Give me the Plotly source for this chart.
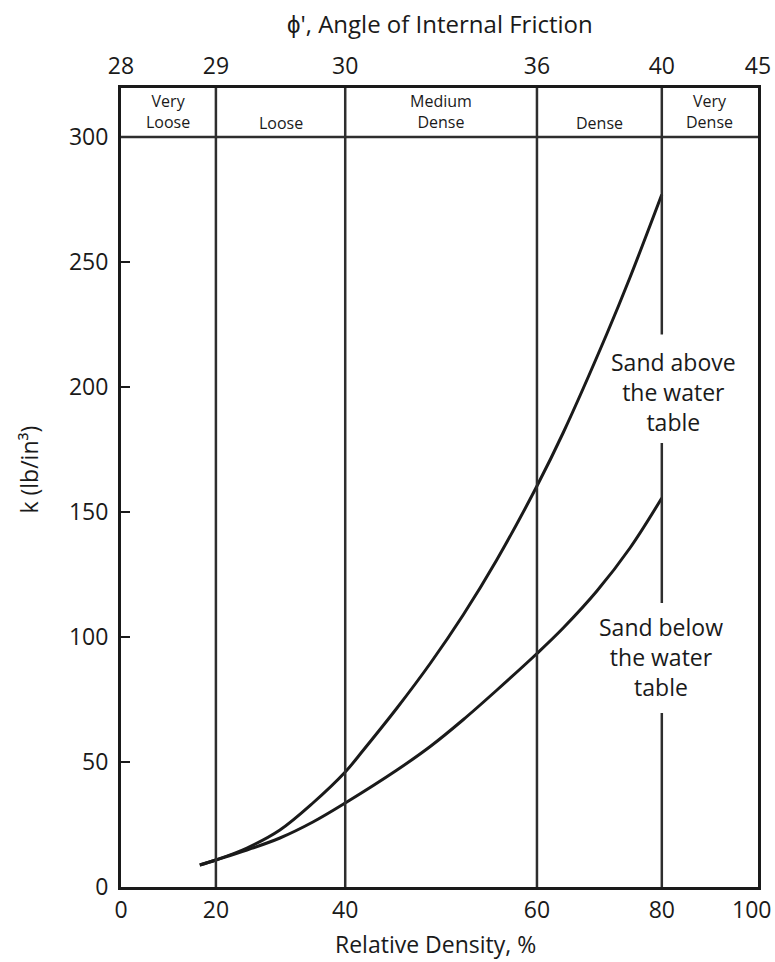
import numpy as np
import plotly.graph_objects as go

# ---- data -------------------------------------------------------------
# Relative density tick values (bottom axis) and their place on the chart's
# own (non-uniform, hand-drawn) scale, expressed in % of the axis length.
DENSITY_TICKS = [0, 20, 40, 60, 80, 100]
SCALE_POS = [0, 14.9, 35.2, 65.3, 84.9, 100]
DENSITY_LABELS = ["0", "20", "40", "60", "80", "100"]

# Angle of internal friction labels (top axis), aligned with the density ticks
PHI_LABELS = ["28", "29", "30", "36", "40", "45"]

# Density classes (boundaries in relative density, %)
CLASS_NAMES = ["Very<br>Loose", "Loose", "Medium<br>Dense", "Dense", "Very<br>Dense"]
CLASS_BOUNDS = [0, 20, 40, 60, 80, 100]

# Curves: relative density (%) vs modulus of subgrade reaction k (lb/in^3)
ABOVE_DENSITY = [16.6, 20, 24.8, 29.9, 35, 40, 41.9, 45.4, 48.9, 52.3, 55.8, 60, 64.2, 71.2, 74.9, 80]
ABOVE_K = [8.8, 10.8, 15.6, 22.8, 33.6, 46, 54.8, 71.6, 89.6, 108.8, 130.8, 160.4, 181.7, 221.3, 243.8, 277]

BELOW_DENSITY = [16.6, 20, 24.8, 29.9, 35, 40, 45.4, 48.9, 52.3, 55.8, 60, 64.2, 69.6, 74.9, 80]
BELOW_K = [8.8, 10.8, 14.8, 19.6, 26, 33.6, 46.8, 56.3, 66.9, 78.7, 93.4, 103.6, 118.4, 135.6, 155.6]

K_TICKS = [0, 50, 100, 150, 200, 250, 300]


def to_pos(d):
    """Map relative density onto the chart's non-uniform horizontal scale."""
    return np.interp(np.asarray(d, dtype=float), DENSITY_TICKS, SCALE_POS)


FONT = "Open Sans, Liberation Sans, Arial, sans-serif"
INK = "#1a1a1a"
GRID = "#2e2e2e"
Y_TOP = 319.6

fig = go.Figure()

for dens, k in [(ABOVE_DENSITY, ABOVE_K), (BELOW_DENSITY, BELOW_K)]:
    fig.add_trace(go.Scatter(
        x=to_pos(dens), y=k, mode="lines",
        line=dict(color=INK, width=3, shape="spline", smoothing=1.0),
        showlegend=False, hoverinfo="skip"))

# invisible trace so the top axis is drawn
fig.add_trace(go.Scatter(x=[0, 100], y=[0, 0], xaxis="x2", mode="markers",
                         marker=dict(opacity=0), showlegend=False, hoverinfo="skip"))

shapes = []
# vertical class boundaries at 20, 40, 60 % (full height)
for d in CLASS_BOUNDS[1:4]:
    p = float(to_pos(d))
    shapes.append(dict(type="line", xref="x", yref="y", x0=p, x1=p, y0=0, y1=Y_TOP,
                       line=dict(color=GRID, width=2.5)))
# boundary at 80 %, interrupted by the curve labels
p80 = float(to_pos(80))
for y0, y1 in [(221, Y_TOP), (113.6, 177.6), (0, 69.6)]:
    shapes.append(dict(type="line", xref="x", yref="y", x0=p80, x1=p80, y0=y0, y1=y1,
                       line=dict(color=GRID, width=2.5)))
# horizontal line closing the class table at k = 300
shapes.append(dict(type="line", xref="x", yref="y", x0=0, x1=100, y0=300, y1=300,
                   line=dict(color=GRID, width=2.5)))

annotations = []
# class names in the table
for i, name in enumerate(CLASS_NAMES):
    cx = float((to_pos(CLASS_BOUNDS[i]) + to_pos(CLASS_BOUNDS[i + 1])) / 2)
    two = "<br>" in name
    annotations.append(dict(x=cx, y=310.2 if two else 305.6, xref="x", yref="y",
                            text=name, showarrow=False, yanchor="middle",
                            font=dict(family=FONT, size=16, color=INK)))

# last bottom tick label, nudged inward so it stays inside the page
annotations.append(dict(x=SCALE_POS[-1], y=-0.0275, xref="x", yref="paper",
                        xanchor="center", yanchor="middle", xshift=-7,
                        text=DENSITY_LABELS[-1], showarrow=False,
                        font=dict(family=FONT, size=23, color=INK)))

# curve labels
annotations.append(dict(x=86.7, y=198, xref="x", yref="y", yanchor="middle",
                        text="Sand above<br>the water<br>table", showarrow=False,
                        font=dict(family=FONT, size=23, color=INK)))
annotations.append(dict(x=84.85, y=92, xref="x", yref="y", yanchor="middle",
                        text="Sand below<br>the water<br>table", showarrow=False,
                        font=dict(family=FONT, size=23, color=INK)))

# axis titles
annotations.append(dict(x=0.493, y=-0.0713, xref="paper", yref="paper",
                        xanchor="center", yanchor="middle",
                        text="Relative Density, %", showarrow=False,
                        font=dict(family=FONT, size=23, color=INK)))
annotations.append(dict(x=0.5, y=1.0813, xref="paper", yref="paper",
                        xanchor="center", yanchor="middle",
                        text="ϕ', Angle of Internal Friction", showarrow=False,
                        font=dict(family=FONT, size=24, color=INK)))
annotations.append(dict(x=-0.145, y=0.522, xref="paper", yref="paper",
                        xanchor="center", yanchor="middle",
                        text="k (lb/in³)", textangle=-90, showarrow=False,
                        font=dict(family=FONT, size=23, color=INK)))

fig.update_layout(
    width=775, height=962,
    margin=dict(l=121, r=17, t=88, b=75, autoexpand=False),
    paper_bgcolor="white", plot_bgcolor="white",
    font=dict(family=FONT, size=23, color=INK),
    shapes=shapes, annotations=annotations,
    xaxis=dict(range=[0, 100], tickmode="array", tickvals=SCALE_POS[:-1],
               ticktext=DENSITY_LABELS[:-1], showgrid=False, zeroline=False,
               showline=True, linecolor=INK, linewidth=3, mirror=True, ticks="",
               ticklabelstandoff=0, automargin=False, tickfont=dict(size=23)),
    xaxis2=dict(range=[0, 100], overlaying="x", side="top", tickmode="array",
                tickvals=SCALE_POS, ticktext=PHI_LABELS, showgrid=False,
                zeroline=False, showline=False, ticks="", tickfont=dict(size=23),
                ticklabelstandoff=8, ticklabeloverflow="allow", automargin=False,
                anchor="y"),
    yaxis=dict(range=[0, Y_TOP], tickmode="array", tickvals=K_TICKS, showgrid=False,
               zeroline=False, showline=True, linecolor=INK, linewidth=3, mirror=True,
               ticks="inside", ticklen=9, tickwidth=2, tickcolor=INK, automargin=False,
               ticklabelstandoff=5, tickfont=dict(size=23)),
)

fig.write_html("out.html", config={"displayModeBar": False},
               post_script="document.body.style.margin='0px';")
